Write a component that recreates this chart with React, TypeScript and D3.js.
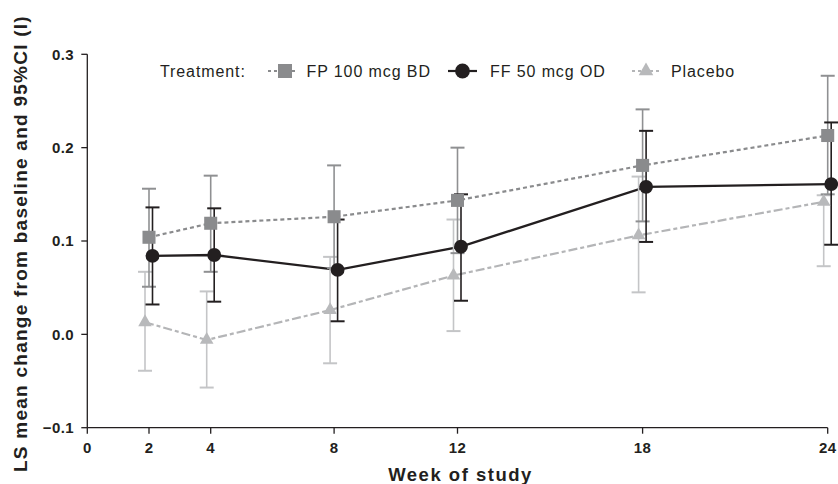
import React from "react";
import * as d3 from "d3";

const weeks = [2, 4, 8, 12, 18, 24];
const xTicks = [0, 2, 4, 8, 12, 18, 24];
const yTicks = [-0.1, 0.0, 0.1, 0.2, 0.3];

const fpMean = [0.104, 0.119, 0.126, 0.1435, 0.181, 0.213];
const fpLower = [0.051, 0.067, 0.071, 0.087, 0.121, 0.15];
const fpUpper = [0.156, 0.17, 0.181, 0.2, 0.241, 0.277];

const ffMean = [0.084, 0.085, 0.069, 0.094, 0.158, 0.161];
const ffLower = [0.032, 0.035, 0.014, 0.036, 0.099, 0.096];
const ffUpper = [0.136, 0.135, 0.123, 0.15, 0.218, 0.227];

const pbMean = [0.013, -0.006, 0.026, 0.063, 0.106, 0.142];
const pbLower = [-0.039, -0.057, -0.031, 0.0035, 0.045, 0.073];
const pbUpper = [0.067, 0.046, 0.083, 0.123, 0.169, 0.149];

const seriesNames = ["FP 100 mcg BD", "FF 50 mcg OD", "Placebo"];

const W = 838;
const H = 484;
const FONT = "'Liberation Sans', Arial, Helvetica, sans-serif";
const INK = "#231f20";

type Series = {
  name: string;
  mean: number[];
  lower: number[];
  upper: number[];
  color: string;
  barColor: string;
  fill: string;
  dash: string | undefined;
  symbol: d3.SymbolType;
  size: number;
  dx: number;
};

export default function App() {
  const x = d3.scaleLinear().domain([0, 24]).range([87.3, 827.7]);
  const y = d3.scaleLinear().domain([-0.1, 0.3]).range([427.7, 54.3]);

  const series: Series[] = [
    {
      name: seriesNames[2],
      mean: pbMean,
      lower: pbLower,
      upper: pbUpper,
      color: "#b4b5b7",
      barColor: "#c4c5c7",
      fill: "#b8b9bb",
      dash: "9,3,4,3",
      symbol: d3.symbolTriangle,
      size: 80,
      dx: -4,
    },
    {
      name: seriesNames[0],
      mean: fpMean,
      lower: fpLower,
      upper: fpUpper,
      color: "#8a8b8d",
      barColor: "#8f9092",
      fill: "#8a8b8d",
      dash: "4,3",
      symbol: d3.symbolSquare,
      size: 170,
      dx: 0,
    },
    {
      name: seriesNames[1],
      mean: ffMean,
      lower: ffLower,
      upper: ffUpper,
      color: INK,
      barColor: INK,
      fill: INK,
      dash: undefined,
      symbol: d3.symbolCircle,
      size: 150,
      dx: 3.5,
    },
  ];

  const line = (s: Series) =>
    d3
      .line<number>()
      .x((_, i) => x(weeks[i]) + s.dx)
      .y((v) => y(v))(s.mean) || "";

  const capW = 14;

  const legendItems = [
    { s: series[1], lx0: 268, lx1: 296, mx: 285, tx: 306.5 },
    { s: series[2], lx0: 448, lx1: 477, mx: 462.5, tx: 490 },
    { s: series[0], lx0: 632, lx1: 660, mx: 646, tx: 671 },
  ];
  const legendY = 71;

  return (
    <svg
      width={W}
      height={H}
      style={{ position: "absolute", left: 0, top: 0, background: "#fff" }}
      fontFamily={FONT}
    >
      <rect x={0} y={0} width={W} height={H} fill="#fff" />

      {/* axes */}
      <line x1={x(0)} x2={x(0)} y1={y(0.3)} y2={y(-0.1)} stroke={INK} strokeWidth={1.3} />
      <line x1={x(0)} x2={x(24)} y1={y(-0.1)} y2={y(-0.1)} stroke={INK} strokeWidth={1.3} />
      {yTicks.map((t) => (
        <g key={"yt" + t}>
          <line x1={x(0) - 6} x2={x(0)} y1={y(t)} y2={y(t)} stroke={INK} strokeWidth={1.3} />
          <text
            x={74}
            y={y(t)}
            dy="0.36em"
            textAnchor="end"
            fontSize={15}
            fontWeight="bold"
            fill={INK}
            letterSpacing={0.4}
          >
            {t < 0 ? "\u2212" + Math.abs(t).toFixed(1) : t.toFixed(1)}
          </text>
        </g>
      ))}
      {xTicks.map((t) => (
        <g key={"xt" + t}>
          <line x1={x(t)} x2={x(t)} y1={y(-0.1)} y2={y(-0.1) + 6} stroke={INK} strokeWidth={1.3} />
          <text
            x={x(t)}
            y={452.5}
            textAnchor="middle"
            fontSize={15}
            fontWeight="bold"
            fill={INK}
            letterSpacing={0.4}
          >
            {t}
          </text>
        </g>
      ))}

      {/* axis titles */}
      <text
        x={(x(0) + x(24)) / 2 + 3}
        y={481}
        textAnchor="middle"
        fontSize={18.5}
        fontWeight="bold"
        fill={INK}
        letterSpacing={1.5}
      >
        Week of study
      </text>
      <text
        transform={`translate(27,472) rotate(-90)`}
        textAnchor="start"
        fontSize={19}
        fontWeight="bold"
        fill={INK}
        letterSpacing={1.25}
      >
        LS mean change from baseline and 95%CI (l)
      </text>

      {/* series lines */}
      {series.map((s) => (
        <path
          key={"l" + s.name}
          d={line(s)}
          fill="none"
          stroke={s.color}
          strokeWidth={s.dash ? 2.2 : 2.3}
          strokeDasharray={s.dash}
        />
      ))}

      {/* error bars */}
      {series.map((s) =>
        weeks.map((w, i) => {
          const cx = x(w) + s.dx;
          return (
            <g key={"e" + s.name + w} stroke={s.barColor}>
              <line x1={cx} x2={cx} y1={y(s.lower[i])} y2={y(s.upper[i])} strokeWidth={1.6} />
              <line x1={cx - capW / 2} x2={cx + capW / 2} y1={y(s.lower[i])} y2={y(s.lower[i])} strokeWidth={2} />
              <line x1={cx - capW / 2} x2={cx + capW / 2} y1={y(s.upper[i])} y2={y(s.upper[i])} strokeWidth={2} />
            </g>
          );
        })
      )}

      {/* markers */}
      {series.map((s) =>
        weeks.map((w, i) => (
          <path
            key={"m" + s.name + w}
            transform={`translate(${x(w) + s.dx},${y(s.mean[i])})`}
            d={d3.symbol().type(s.symbol).size(s.size)() || ""}
            fill={s.fill}
          />
        ))
      )}

      {/* legend */}
      <text x={160} y={77} fontSize={16} fill={INK} letterSpacing={0.9}>
        Treatment:
      </text>
      {legendItems.map(({ s, lx0, lx1, mx, tx }) => (
        <g key={"lg" + s.name}>
          <line
            x1={lx0}
            x2={lx1}
            y1={legendY}
            y2={legendY}
            stroke={s.color}
            strokeWidth={2.2}
            strokeDasharray={s.dash ? "3,3" : undefined}
          />
          <path
            transform={`translate(${mx},${legendY})`}
            d={d3.symbol().type(s.symbol).size(s.size * 1.15)() || ""}
            fill={s.fill}
          />
          <text x={tx} y={77} fontSize={16} fill={INK} letterSpacing={0.9}>
            {s.name}
          </text>
        </g>
      ))}
    </svg>
  );
}
